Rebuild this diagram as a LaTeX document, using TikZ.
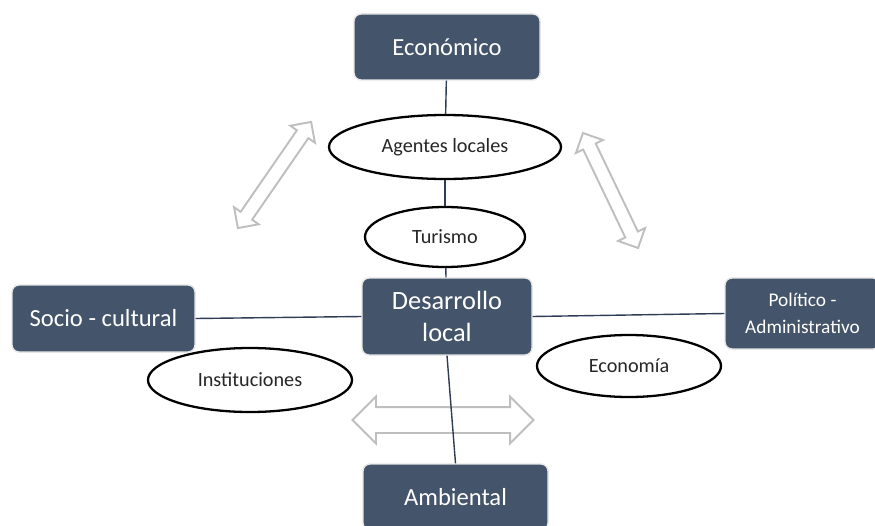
\documentclass[tikz,border=0pt]{standalone}
\usepackage{fontspec}
\setmainfont{Carlito}
\usetikzlibrary{shapes.geometric,shapes.arrows}
\definecolor{caja}{HTML}{44546A}
\definecolor{linea}{HTML}{2F3C56}
\definecolor{gris}{HTML}{BFBFBF}
\begin{document}
\begin{tikzpicture}[
		caja/.style={draw=gray!20, line width=0.8pt, fill=caja, rounded corners=4pt, text=white, align=center, inner sep=0pt, font=\fontsize{14}{17}\selectfont},
		elipse/.style={draw, ellipse, line width=1.3pt, inner sep=0pt, fill=white, text=black!85, font=\fontsize{11.5}{13}\selectfont},
		flecha/.style={double arrow, draw=gris, line width=1.1pt, fill=white, inner xsep=0pt},
		conector/.style={draw=linea, line width=0.8pt}]
		\useasboundingbox (0,0) rectangle (17.5,10.5);
		\node[flecha, inner ysep=0.12cm, double arrow head extend=0.16cm, minimum height=2.58cm, rotate=55.4] (flechaA) at (5.49,7.0) {};
		\node[flecha, inner ysep=0.12cm, double arrow head extend=0.16cm, minimum height=2.55cm, rotate=-64.4] (flechaB) at (12.21,6.69) {};
		\node[flecha, inner ysep=0.24cm, double arrow head extend=0.21cm, minimum height=3.62cm] (flechaC) at (8.86,2.1) {};
		\node[caja, minimum width=3.72cm, minimum height=1.32cm] (eco) at (8.94,9.56) {Económico};
		\node[caja, minimum width=3.66cm, minimum height=1.34cm] (soc) at (2.07,4.13) {Socio - cultural};
		\node[caja, minimum width=3.4cm, minimum height=1.54cm, font=\fontsize{15}{18.7}\selectfont] (des) at (8.94,4.17) {Desarrollo\\local};
		\node[caja, minimum width=3.1cm, minimum height=1.42cm, font=\fontsize{11}{15}\selectfont] (pol) at (16.05,4.23) {Político -\\Administrativo};
		\node[caja, minimum width=3.7cm, minimum height=1.32cm] (amb) at (9.11,0.56) {Ambiental};
		\node[elipse, minimum width=4.64cm, minimum height=1.28cm] (age) at (8.9,7.56) {Agentes locales};
		\node[elipse, minimum width=3.2cm, minimum height=1.2cm] (tur) at (8.9,5.76) {Turismo};
		\node[elipse, minimum width=4.08cm, minimum height=1.28cm] (ins) at (5.0,2.9) {Instituciones};
		\node[elipse, minimum width=3.68cm, minimum height=1.24cm] (ecn) at (12.58,3.18) {Economía};
		\draw[conector] (eco) -- (age);
		\draw[conector] (age) -- (tur);
		\draw[conector] (tur) -- (des);
		\draw[conector] (soc.east) -- (des.west);
		\draw[conector] (des.east) -- (pol.west);
		\draw[conector] (des.south) -- (amb.north);
	\end{tikzpicture}
\end{document}
